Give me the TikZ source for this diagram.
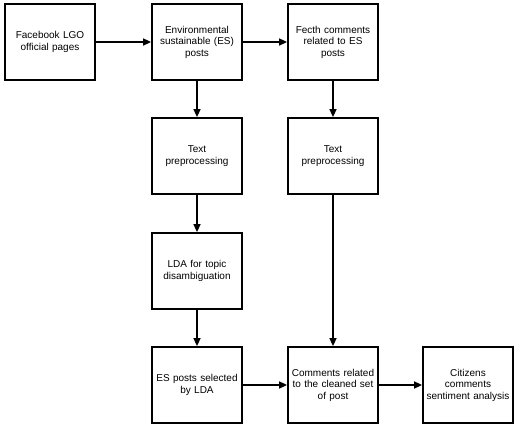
\documentclass[tikz,border=0pt]{standalone}
\usepackage{fontspec}
\setmainfont{Liberation Sans}
\usetikzlibrary{arrows.meta}
\begin{document}
\begin{tikzpicture}[x=1pt,y=-1pt,
  boxnode/.style={draw=black,line width=1.8pt,minimum width=90pt,minimum height=76pt,align=center,font=\fontsize{10}{11.5}\selectfont,inner sep=1pt,text width=88pt},
  arr/.style={line width=1.6pt,-{Triangle[length=8pt,width=7pt]}}]
\useasboundingbox[fill=white] (0,0) rectangle (520,428);
\node[boxnode] (fb) at (50,42) {Facebook LGO\\official pages\\[4pt]};
\node[boxnode] (es) at (197,42) {Environmental\\sustainable (ES)\\posts\\[4pt]};
\node[boxnode] (fc) at (333,42) {Fecth comments\\related to ES\\posts\\[4pt]};
\node[boxnode] (tp1) at (197,156) {Text\\preprocessing};
\node[boxnode] (tp2) at (333,156) {Text\\preprocessing};
\node[boxnode] (lda) at (197,271) {LDA for topic\\disambiguation};
\node[boxnode] (sel) at (197,385) {ES posts selected\\by LDA};
\node[boxnode] (com) at (333,385) {Comments related\\to the cleaned set\\of post};
\node[boxnode] (cit) at (468,385) {Citizens\\comments\\sentiment analysis};
\draw[arr] (fb) -- (es);
\draw[arr] (es) -- (fc);
\draw[arr] (es) -- (tp1);
\draw[arr] (fc) -- (tp2);
\draw[arr] (tp1) -- (lda);
\draw[arr] (lda) -- (sel);
\draw[arr] (tp2) -- (com);
\draw[arr] (sel) -- (com);
\draw[arr] (com) -- (cit);
\end{tikzpicture}
\end{document}
